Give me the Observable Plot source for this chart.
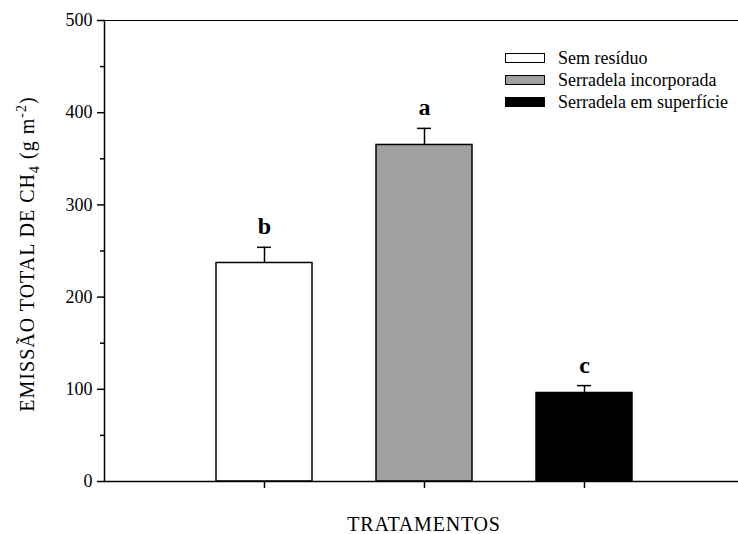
<!DOCTYPE html>
<html><head><meta charset="utf-8">
<script src="https://cdn.jsdelivr.net/npm/d3@7"></script>
<script src="https://cdn.jsdelivr.net/npm/@observablehq/plot@0.6"></script>
<style>
html,body{margin:0;padding:0;background:#fff;}
#wrap{position:relative;width:738px;height:534px;overflow:hidden;}
.legend{position:absolute;left:505px;top:47px;font-family:"Liberation Serif","Times New Roman",serif;font-size:18px;color:#000;}
.legend .row{display:flex;align-items:center;height:22px;line-height:22px;white-space:nowrap;}
.legend .sw{box-sizing:border-box;width:40px;height:10px;border:1.2px solid #000;margin-right:13px;}
</style></head><body><div id="wrap"></div>
<script>
const tratamentos = ["Sem resíduo", "Serradela incorporada", "Serradela em superfície"];
const emissao = [237, 365, 96];
const erro = [17, 18, 8];
const letras = ["b", "a", "c"];
const yTicks = [0, 100, 200, 300, 400, 500];
const yMinor = [50, 150, 250, 350, 450];
const cores = ["#ffffff", "#a0a0a0", "#000000"];

const data = tratamentos.map((t, i) => ({t, v: emissao[i], top: emissao[i] + erro[i], l: letras[i]}));

const plot = Plot.plot({
  width: 738, height: 534,
  marginTop: 20, marginBottom: 53, marginLeft: 104, marginRight: 0,
  style: {fontFamily: "'Liberation Serif', 'Times New Roman', serif", fontSize: "18px", color: "#000", background: "#fff", overflow: "visible"},
  x: {domain: tratamentos, range: [104, 744], paddingInner: 0.4, paddingOuter: 0.7},
  y: {domain: [0, 500]},
  color: {domain: tratamentos, range: cores},
  marks: [
    Plot.barY(data, {x: "t", y: "v", fill: "t", stroke: "#000", strokeWidth: 1.5}),
    Plot.ruleX(data, {x: "t", y1: "v", y2: "top", stroke: "#000", strokeWidth: 1.5}),
    Plot.tickY(data, {x: "t", y: "top", insetLeft: 41, insetRight: 41, stroke: "#000", strokeWidth: 1.5}),
    Plot.text(data, {x: "t", y: "top", text: "l", dy: -13, lineAnchor: "bottom", fontWeight: "bold", fontSize: 24, fill: "#000"}),
    Plot.axisY({ticks: yTicks, tickSize: 7, tickPadding: 5, strokeWidth: 1.5, label: null, fontSize: 18}),
    Plot.axisY({ticks: yMinor, tickSize: 4, tickFormat: () => "", strokeWidth: 1.5, label: null}),
    Plot.axisX({tickSize: 7, tickFormat: () => "", strokeWidth: 1.5, label: null}),
    Plot.frame({anchor: "left", strokeWidth: 1.5}),
    Plot.frame({anchor: "top", strokeWidth: 1}),
    Plot.ruleY([0], {strokeWidth: 1.5})
  ]
});

const wrap = document.getElementById("wrap");
wrap.appendChild(plot);

const svg = d3.select(plot);
const yl = svg.append("text")
  .attr("transform", "translate(34,254) rotate(-90)")
  .attr("text-anchor", "middle")
  .style("font-family", "'Liberation Serif', 'Times New Roman', serif")
  .style("font-size", "20px")
  .style("letter-spacing", "1px")
  .attr("fill", "#000");
yl.append("tspan").text("EMISSÃO TOTAL DE CH");
yl.append("tspan").attr("dy", 5).style("font-size", "14px").text("4");
yl.append("tspan").attr("dy", -5).text(" (g m");
yl.append("tspan").attr("dy", -8).style("font-size", "14px").text("-2");
yl.append("tspan").attr("dy", 8).text(")");

const xr = plot.scale("x").range;
svg.append("text")
  .attr("x", (xr[0] + xr[1]) / 2)
  .attr("y", 531)
  .attr("text-anchor", "middle")
  .style("font-family", "'Liberation Serif', 'Times New Roman', serif")
  .style("font-size", "20px")
  .style("letter-spacing", "0.8px")
  .attr("fill", "#000")
  .text("TRATAMENTOS");

const leg = document.createElement("div");
leg.className = "legend";
tratamentos.forEach((t, i) => {
  const row = document.createElement("div");
  row.className = "row";
  const sw = document.createElement("div");
  sw.className = "sw";
  sw.style.background = cores[i];
  const lab = document.createElement("span");
  lab.textContent = t;
  row.appendChild(sw);
  row.appendChild(lab);
  leg.appendChild(row);
});
wrap.appendChild(leg);
</script>
</body></html>
